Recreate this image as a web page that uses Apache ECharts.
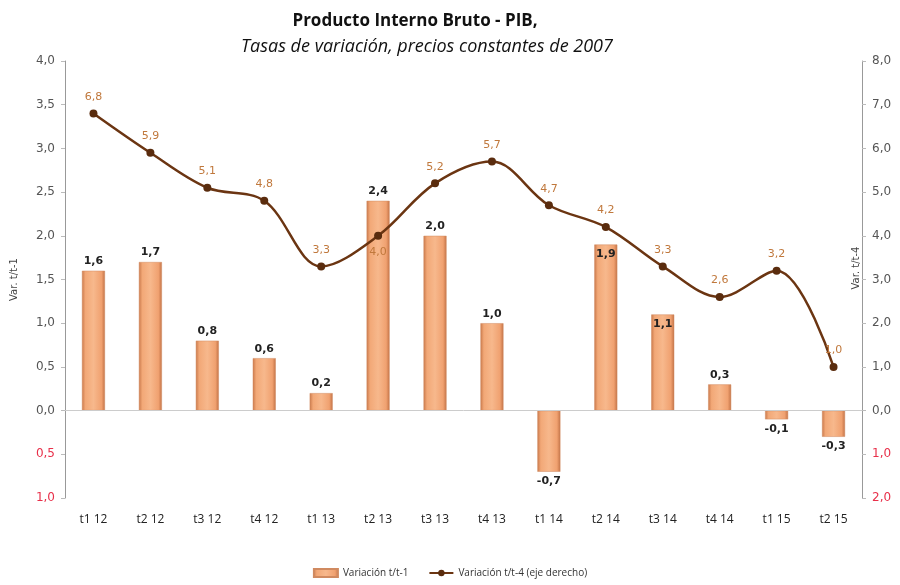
<!DOCTYPE html>
<html><head><meta charset="utf-8">
<script src="https://cdn.jsdelivr.net/npm/echarts@6/dist/echarts.min.js"></script>
<style>html,body{margin:0;padding:0;background:#fff}#c{width:900px;height:585px}</style>
</head><body><div id="c"></div>
<script>
const categories = ['t1 12','t2 12','t3 12','t4 12','t1 13','t2 13','t3 13','t4 13','t1 14','t2 14','t3 14','t4 14','t1 15','t2 15'];
const varTT1 = [1.6, 1.7, 0.8, 0.6, 0.2, 2.4, 2.0, 1.0, -0.7, 1.9, 1.1, 0.3, -0.1, -0.3];
const varTT4 = [6.8, 5.9, 5.1, 4.8, 3.3, 4.0, 5.2, 5.7, 4.7, 4.2, 3.3, 2.6, 3.2, 1.0];
const seriesNames = ['Variación t/t-1', 'Variación t/t-4 (eje derecho)'];
const rightAxisName = 'Var. t/t-4';

const fmt = v => v.toFixed(1).replace('.', ',');
const axisFmt = v => Math.abs(v).toFixed(1).replace('.', ',');
const axisRich = { neg: { color: '#e8304a', fontSize: 12, fontFamily: 'DejaVu Sans' } };
const axisLab = v => v < 0 ? '{neg|' + axisFmt(v) + '}' : axisFmt(v);

const barGrad = new echarts.graphic.LinearGradient(0, 0, 1, 0, [
  { offset: 0, color: '#c9784a' },
  { offset: 0.15, color: '#f2a877' },
  { offset: 0.5, color: '#f7b88c' },
  { offset: 0.85, color: '#f0a170' },
  { offset: 1, color: '#c27246' }
]);

const chart = echarts.init(document.getElementById('c'));
chart.setOption({
  animation: false,
  backgroundColor: '#fff',
  title: [
    { text: 'Producto Interno Bruto - PIB,', left: 410, textAlign: 'center', top: 8,
      textStyle: { fontFamily: 'Open Sans', fontWeight: 'bold', fontSize: 17, color: '#111' } },
    { text: 'Tasas de variación, precios constantes de 2007', left: 422, textAlign: 'center', top: 33,
      textStyle: { fontFamily: 'Open Sans', fontStyle: 'italic', fontWeight: 'normal', fontSize: 18, color: '#111' } }
  ],
  graphic: [
    { type: 'text', x: 856, y: 268, rotation: Math.PI / 2, z: 10,
      style: { text: rightAxisName, fontFamily: 'DejaVu Sans', fontSize: 10, fill: '#444', align: 'center', verticalAlign: 'middle' } }
  ],
  grid: { left: 65, right: 38, top: 61, bottom: 87, containLabel: false, outerBoundsMode: 'none' },
  legend: {
    bottom: 2, left: 'center', itemWidth: 24, itemHeight: 8, itemGap: 20,
    textStyle: { fontFamily: 'Open Sans', fontSize: 10, color: '#333' },
    data: [
      { name: seriesNames[0], icon: 'rect' },
      { name: seriesNames[1] }
    ]
  },
  xAxis: {
    type: 'category', data: categories,
    axisLine: { show: false, onZero: false }, axisTick: { show: false },
    axisLabel: { fontFamily: 'Open Sans', fontSize: 12, color: '#222', margin: 16 }
  },
  yAxis: [
    { type: 'value', min: -1, max: 4, interval: 0.5, position: 'left',
      name: 'Var. t/t-1', nameLocation: 'middle', nameGap: 46, nameRotate: 90,
      nameTextStyle: { fontFamily: 'DejaVu Sans', fontSize: 10, color: '#444' },
      axisLine: { show: true, lineStyle: { color: '#999' } },
      axisTick: { show: true, length: 4, lineStyle: { color: '#bbb' } },
      splitLine: { show: false },
      axisLabel: { formatter: axisLab, rich: axisRich, fontFamily: 'DejaVu Sans', fontSize: 12, color: '#555', margin: 10 } },
    { type: 'value', min: -2, max: 8, interval: 1, position: 'right',
      axisLine: { show: true, lineStyle: { color: '#999' } },
      axisTick: { show: true, length: 4, lineStyle: { color: '#bbb' } },
      splitLine: { show: false },
      axisLabel: { formatter: axisLab, rich: axisRich, fontFamily: 'DejaVu Sans', fontSize: 12, color: '#555', margin: 10 } }
  ],
  series: [
    { name: seriesNames[0], type: 'bar', yAxisIndex: 0, barWidth: 23,
      itemStyle: { color: barGrad, borderColor: '#d08a60', borderWidth: 0.5 },
      data: varTT1.map((v, i) => ({
        value: v,
        label: { position: v < 0 ? 'bottom' : (i === 9 || i === 10 ? 'insideTop' : 'top') }
      })),
      label: { show: true, formatter: p => fmt(p.value), fontFamily: 'DejaVu Sans', fontWeight: 'bold', fontSize: 11, color: '#222', distance: 4 },
      markLine: { silent: true, symbol: 'none', label: { show: false },
        lineStyle: { color: '#ccc', type: 'solid', width: 1 }, data: [{ yAxis: 0 }] },
      z: 2
    },
    { name: seriesNames[1], type: 'line', yAxisIndex: 1, smooth: 0.35,
      symbol: 'circle', symbolSize: 8,
      lineStyle: { color: '#6b3512', width: 2.5 },
      itemStyle: { color: '#5a2c0e' },
      data: varTT4.map((v, i) => ({ value: v, label: { position: i === 5 ? 'bottom' : 'top' } })),
      label: { show: true, formatter: p => fmt(p.value), fontFamily: 'DejaVu Sans', fontSize: 11, color: '#c0783c', distance: 7 },
      z: 3
    }
  ]
});
</script></body></html>
